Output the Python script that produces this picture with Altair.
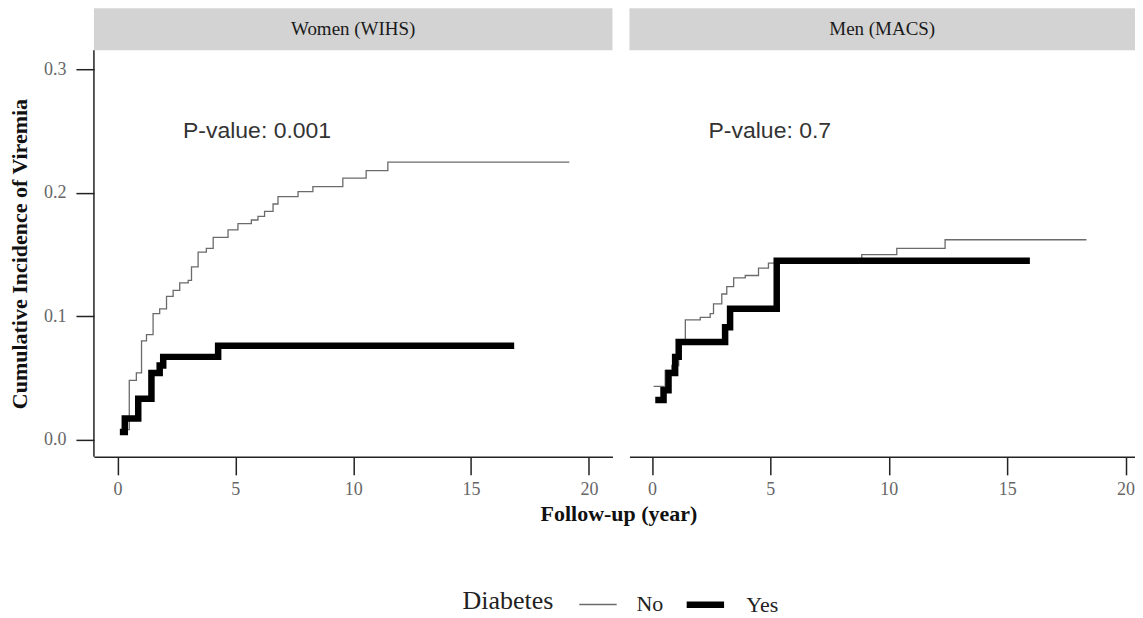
import altair as alt
import pandas as pd

# ---------------- data ----------------
panels = ["Women (WIHS)", "Men (MACS)"]
groups = ["No", "Yes"]

women_no_t = [0.20, 0.50, 0.80, 1.02, 1.23, 1.51, 1.79, 2.08, 2.36, 2.64, 3.00, 3.14, 3.42, 3.77,
              4.06, 4.69, 5.11, 5.68, 5.96, 6.24, 6.60, 6.81, 7.66, 8.29, 9.56, 10.55, 11.47, 19.17]
women_no_ci = [0.008, 0.048, 0.054, 0.080, 0.085, 0.102, 0.106, 0.116, 0.121, 0.127, 0.129, 0.140,
               0.152, 0.155, 0.164, 0.170, 0.175, 0.178, 0.181, 0.185, 0.191, 0.197, 0.201, 0.205,
               0.212, 0.218, 0.225, 0.225]
women_yes_t = [0.10, 0.31, 0.88, 1.44, 1.79, 1.94, 4.27, 16.83]
women_yes_ci = [0.006, 0.017, 0.033, 0.054, 0.060, 0.067, 0.076, 0.076]

men_no_t = [0.07, 0.56, 0.84, 1.13, 1.41, 2.04, 2.46, 2.60, 2.95, 3.16, 3.45, 3.94, 4.50, 4.92,
            5.20, 8.86, 10.34, 12.38, 18.35]
men_no_ci = [0.043, 0.056, 0.060, 0.081, 0.097, 0.099, 0.102, 0.110, 0.118, 0.124, 0.131, 0.133,
             0.139, 0.143, 0.145, 0.150, 0.155, 0.162, 0.162]
men_yes_t = [0.14, 0.49, 0.70, 0.98, 1.13, 3.09, 3.30, 5.27, 15.96]
men_yes_ci = [0.032, 0.040, 0.054, 0.067, 0.079, 0.091, 0.106, 0.145, 0.145]

p_labels = ["P-value: 0.001", "P-value: 0.7"]
p_t = [2.78, 2.39]
p_ci = [0.250, 0.250]

x_ticks = [0, 5, 10, 15, 20]
y_ticks = [0.0, 0.1, 0.2, 0.3]

# ---------------- styling ----------------
SERIF = "Liberation Serif"
SANS = "Liberation Sans"
STRIP_H = 42
PLOT_H = 407
TOTAL_H = STRIP_H + PLOT_H
Y_LO = -0.0141
Y_HI = 0.3157 + STRIP_H * (0.3157 - Y_LO) / PLOT_H
AX = "#222222"
LAB = "#666666"
LEFT_W = 519
RIGHT_W = 506
GAP = 17


def curve_df(t_no, ci_no, t_yes, ci_yes):
    return pd.DataFrame({
        "t": list(t_no) + list(t_yes),
        "ci": list(ci_no) + list(ci_yes),
        "Diabetes": ["No"] * len(t_no) + ["Yes"] * len(t_yes),
        "order": list(range(len(t_no))) + list(range(len(t_yes))),
    })


def panel(idx, df, width, xdomain, left):
    yscale = alt.Scale(domain=[Y_LO, Y_HI], nice=False, zero=False)
    xscale = alt.Scale(domain=xdomain, nice=False, zero=False)
    common = dict(
        values=x_ticks, tickSize=18, tickColor=AX, tickWidth=1.5, domainColor=AX, domainWidth=1.5,
        grid=False, labelFont=SERIF, labelFontSize=18, labelColor=LAB, labelPadding=6,
    )
    if left:
        xaxis = alt.Axis(
            title="Follow-up (year)", titleFont=SERIF, titleFontSize=22, titleFontWeight="bold",
            titleColor="#111", titleX=(LEFT_W + GAP + RIGHT_W) / 2 + 4, titlePadding=5, **common
        )
        yaxis = alt.Axis(
            values=y_ticks, format=".1f", tickSize=18, tickColor=AX, tickWidth=1.5, domain=False,
            grid=False, labelFont=SERIF, labelFontSize=18, labelColor=LAB, labelPadding=10,
            title="Cumulative Incidence of Viremia", titleFont=SERIF, titleFontSize=22,
            titleFontWeight="bold", titleColor="#111", titlePadding=12,
            titleY=STRIP_H + PLOT_H / 2,
        )
    else:
        xaxis = alt.Axis(title=None, **common)
        yaxis = None

    lines = alt.Chart(df).mark_line(interpolate="step-after").encode(
        x=alt.X("t:Q", scale=xscale, axis=xaxis),
        y=alt.Y("ci:Q", scale=yscale, axis=yaxis),
        order="order:Q",
        color=alt.Color("Diabetes:N", scale=alt.Scale(domain=groups, range=["#6b6b6b", "#000000"]),
                        title="Diabetes"),
        strokeWidth=alt.StrokeWidth("Diabetes:N", scale=alt.Scale(domain=groups, range=[1.3, 6.5]),
                                    title="Diabetes"),
    )
    strip_df = pd.DataFrame({"panel": [panels[idx]]})
    strip = alt.Chart(strip_df).mark_rect(color="#d3d3d3").encode(
        x=alt.value(0), x2=alt.value(width), y=alt.value(0), y2=alt.value(STRIP_H)
    )
    strip_text = alt.Chart(strip_df).mark_text(font=SERIF, fontSize=19, color="#1a1a1a").encode(
        x=alt.value(width / 2), y=alt.value(STRIP_H / 2), text="panel:N"
    )
    pdf = pd.DataFrame({"t": [p_t[idx]], "ci": [p_ci[idx]], "label": [p_labels[idx]]})
    ptext = alt.Chart(pdf).mark_text(align="left", baseline="middle", font=SANS, fontSize=23,
                                     color="#333333").encode(
        x=alt.X("t:Q", scale=xscale), y=alt.Y("ci:Q", scale=yscale), text="label:N"
    )
    layers = [strip, strip_text, lines, ptext]
    if left:
        yline = alt.Chart(strip_df).mark_rule(color=AX, strokeWidth=1.5).encode(
            x=alt.value(0), y=alt.value(STRIP_H), y2=alt.value(TOTAL_H)
        )
        layers.append(yline)
    return alt.layer(*layers).properties(width=width, height=TOTAL_H)


left = panel(0, curve_df(women_no_t, women_no_ci, women_yes_t, women_yes_ci), LEFT_W, [-1, 21], True)
right = panel(1, curve_df(men_no_t, men_no_ci, men_yes_t, men_yes_ci), RIGHT_W, [-0.95, 20.4], False)

chart = alt.hconcat(left, right, spacing=GAP, bounds="flush").properties(
    padding={"left": 0, "top": 0, "right": 0, "bottom": 0}
).configure_view(stroke=None).configure_legend(
    orient="none", legendX=369, legendY=575, direction="horizontal", titleOrient="left",
    titleFont=SERIF, titleFontSize=26, titleFontWeight="normal", titleColor="#222",
    labelFont=SERIF, labelFontSize=22, labelColor="#222", symbolType="stroke", symbolSize=1400,
    titlePadding=25, columnPadding=10, labelOffset=19, titleBaseline="middle",
)

chart.save("out.html", embed_options={"renderer": "svg", "actions": False})
